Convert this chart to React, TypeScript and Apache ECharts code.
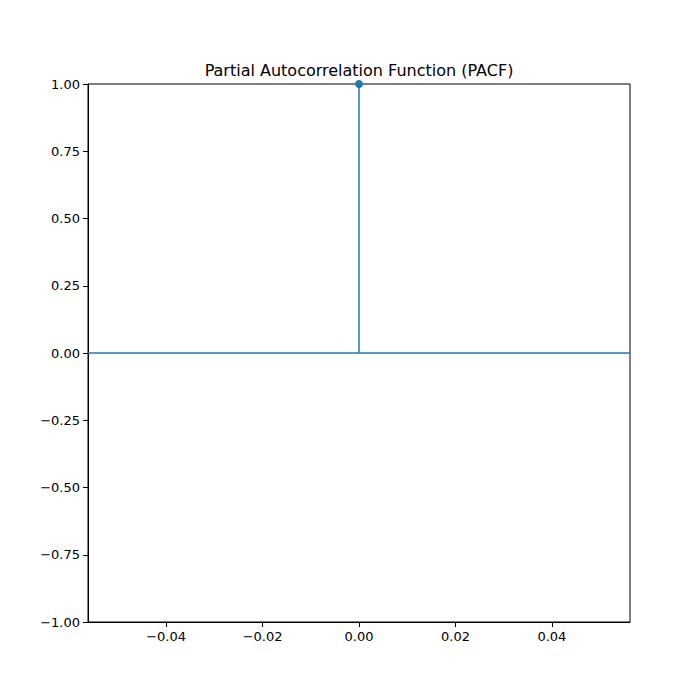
import * as echarts from "echarts";
import { useEffect, useRef } from "react";

const lags = [0];
const pacfValues = [1.0];
const xTicks = [-0.04, -0.02, 0, 0.02, 0.04];
const yTicks = [-1, -0.75, -0.5, -0.25, 0, 0.25, 0.5, 0.75, 1];

const fmt = (v: number) => v.toFixed(2).replace("-", "\u2212");

export default function App() {
  const chartRef = useRef<HTMLDivElement>(null);

  useEffect(() => {
    if (!chartRef.current) return;
    const chart = echarts.init(chartRef.current, undefined, { renderer: "svg" });
    const font = "DejaVu Sans";
    chart.setOption({
      animation: false,
      backgroundColor: "#ffffff",
      textStyle: { fontFamily: font },
      title: {
        text: "Partial Autocorrelation Function (PACF)",
        left: 354,
        top: 57,
        textAlign: "center",
        textStyle: { fontFamily: font, fontSize: 16, fontWeight: "normal", color: "#000" },
      },
      grid: {
        left: 88,
        right: 70,
        top: 84,
        bottom: 78,
        show: true,
        borderColor: "#000",
        borderWidth: 1,
      },
      xAxis: {
        type: "value",
        min: -0.0562,
        max: 0.0562,
        splitLine: { show: false },
        axisLine: { show: true, onZero: false, lineStyle: { color: "#000" } },
        axisTick: { show: true, customValues: xTicks, length: 5, lineStyle: { color: "#000" } },
        axisLabel: {
          customValues: xTicks,
          formatter: fmt,
          color: "#000",
          fontSize: 13,
          fontFamily: font,
          margin: 8,
        },
      },
      yAxis: {
        type: "value",
        min: -1,
        max: 1,
        splitLine: { show: false },
        axisLine: { show: true, onZero: false, lineStyle: { color: "#000" } },
        axisTick: { show: true, customValues: yTicks, length: 5, lineStyle: { color: "#000" } },
        axisLabel: {
          customValues: yTicks,
          formatter: fmt,
          color: "#000",
          fontSize: 13,
          fontFamily: font,
          margin: 8,
        },
      },
      series: [
        {
          type: "line",
          data: [
            [-0.0562, 0],
            [0.0562, 0],
          ],
          symbol: "none",
          lineStyle: { color: "#1f77b4", width: 1.5 },
          silent: true,
        },
        ...lags.map((lag, i) => ({
          type: "line",
          data: [
            [lag, 0],
            [lag, pacfValues[i]],
          ],
          symbol: (_v: any, p: any) => (p.dataIndex === 1 ? "circle" : "none"),
          symbolSize: 8,
          clip: false,
          itemStyle: { color: "#1f77b4" },
          lineStyle: { color: "#1f77b4", width: 1.5 },
        })),
      ],
    });
    return () => chart.dispose();
  }, []);

  return (
    <div
      ref={chartRef}
      style={{ position: "fixed", left: 0, top: 0, width: 700, height: 700 }}
    />
  );
}
